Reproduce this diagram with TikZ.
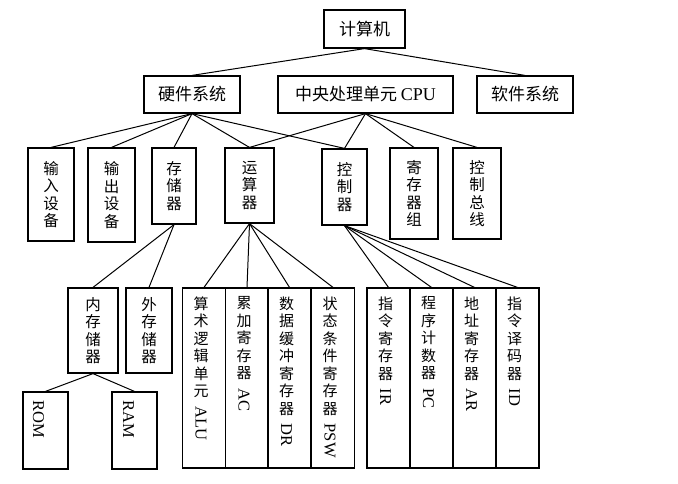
\documentclass[tikz,border=0pt]{standalone}
\usepackage{fontspec}
\setmainfont{Liberation Serif}
\newfontfamily\cjk{Noto Sans CJK SC}
\newcommand{\turnlat}[1]{{\rmfamily\fontsize{16.5}{18}\selectfont\rotatebox{-90}{#1}}}
\tikzset{
    tree diagram/.style = {x=1pt, y=-1pt},
    edge/.style         = {line width=1pt},
    block/.style        = {draw, line width=1.2pt, inner sep=0pt},
    hblock/.style       = {block, minimum height=37pt,
                           font=\cjk\fontsize{17}{20}\selectfont},
    vblock/.style       = {block, align=center,
                           font=\cjk\fontsize{15.5}{17.5}\selectfont},
    cell/.style         = {block, minimum width=43pt, minimum height=180pt},
    celltext/.style     = {anchor=north, yshift=-9pt, xshift=-3pt,
                           inner sep=0pt, align=center,
                           font=\cjk\fontsize{15}{17.5}\selectfont}
}

\begin{document}
\begin{tikzpicture}[tree diagram]
\useasboundingbox (0,0) rectangle (678,483);

% ================= Root and first level =================
\node[hblock, minimum width=81pt, minimum height=38pt] (comp) at (364.5,29) {计算机};
\node[hblock, minimum width=96pt]  (hw)  at (192,94.5)   {硬件系统};
\node[hblock, minimum width=175pt] (cpu) at (365.5,94.5) {中央处理单元 {\rmfamily\fontsize{18}{20}\selectfont CPU}};
\node[hblock, minimum width=96pt]  (sw)  at (525,94.5)   {软件系统};

\draw[edge] (comp.south) -- (hw.north);
\draw[edge] (comp.south) -- (sw.north);

% ================= Second level =================
\node[vblock, minimum width=46pt, minimum height=93pt] (input)  at (51,194.5)   {输\\入\\设\\备};
\node[vblock, minimum width=47pt, minimum height=94pt] (output) at (111.5,195)  {输\\出\\设\\备};
\node[vblock, minimum width=44pt, minimum height=76pt] (mem)    at (174,186)    {存\\储\\器};
\node[vblock, minimum width=49pt, minimum height=75pt] (arith)  at (249.5,185.5) {运\\算\\器};
\node[vblock, minimum width=45pt, minimum height=76pt] (ctrl)   at (344.5,187)  {控\\制\\器};
\node[vblock, minimum width=48pt, minimum height=91pt] (regs)   at (414,193.5)  {寄\\存\\器\\组};
\node[vblock, minimum width=48pt, minimum height=91pt] (bus)    at (477,193.5)  {控\\制\\总\\线};

\draw[edge] (hw.south) -- (input.north);
\draw[edge] (hw.south) -- (output.north);
\draw[edge] (hw.south) -- (mem.north);
\draw[edge] (hw.south) -- (arith.north);
\draw[edge] (hw.south) -- (ctrl.north);
\draw[edge] (cpu.south) -- (arith.north);
\draw[edge] (cpu.south) -- (ctrl.north);
\draw[edge] (cpu.south) -- (regs.north);
\draw[edge] (cpu.south) -- (bus.north);

% ================= Storage branch =================
\node[vblock, minimum width=50pt, minimum height=85pt] (inmem)  at (93,330.5)  {内\\存\\储\\器};
\node[vblock, minimum width=46pt, minimum height=85pt] (extmem) at (149,330.5) {外\\存\\储\\器};
\node[block, minimum width=45pt, minimum height=77pt,
      label={[celltext, xshift=-4pt]north:\turnlat{ROM}}] (rom) at (45.5,430.5) {};
\node[block, minimum width=45pt, minimum height=77pt,
      label={[celltext, xshift=-3pt]north:\turnlat{RAM}}] (ram) at (134.5,430.5) {};

\draw[edge] (mem.south) -- (inmem.north);
\draw[edge] (mem.south) -- (extmem.north);
\draw[edge] (inmem.south) -- (rom.north);
\draw[edge] (inmem.south) -- (ram.north);

% ================= Arithmetic unit parts =================
\node[cell, label={[celltext]north:{算\\术\\逻\\辑\\单\\元\\[-8pt]\turnlat{ALU}}}] (alu) at (204,378) {};
\node[cell, label={[celltext]north:{累\\加\\寄\\存\\器\\[-8pt]\turnlat{AC}}}] (ac) at (247,378) {};
\node[cell, label={[celltext]north:{数\\据\\缓\\冲\\寄\\存\\器\\[-8pt]\turnlat{DR}}}] (dr) at (289.5,378) {};
\node[cell, label={[celltext]north:{状\\态\\条\\件\\寄\\存\\器\\[-8pt]\turnlat{PSW}}}] (psw) at (333,378) {};

\draw[edge] (arith.south) -- (alu.north);
\draw[edge] (arith.south) -- (ac.north);
\draw[edge] (arith.south) -- (dr.north);
\draw[edge] (arith.south) -- (psw.north);

% ================= Control unit parts =================
\node[cell, label={[celltext]north:{指\\令\\寄\\存\\器\\[-8pt]\turnlat{IR}}}] (ir) at (388.5,378) {};
\node[cell, label={[celltext]north:{程\\序\\计\\数\\器\\[-8pt]\turnlat{PC}}}] (pc) at (431.5,378) {};
\node[cell, label={[celltext]north:{地\\址\\寄\\存\\器\\[-8pt]\turnlat{AR}}}] (ar) at (474.5,378) {};
\node[cell, label={[celltext]north:{指\\令\\译\\码\\器\\[-8pt]\turnlat{ID}}}] (id) at (517.5,378) {};

\draw[edge] (ctrl.south) -- (ir.north);
\draw[edge] (ctrl.south) -- (pc.north);
\draw[edge] (ctrl.south) -- (ar.north);
\draw[edge] (ctrl.south) -- (id.north);

\end{tikzpicture}
\end{document}
